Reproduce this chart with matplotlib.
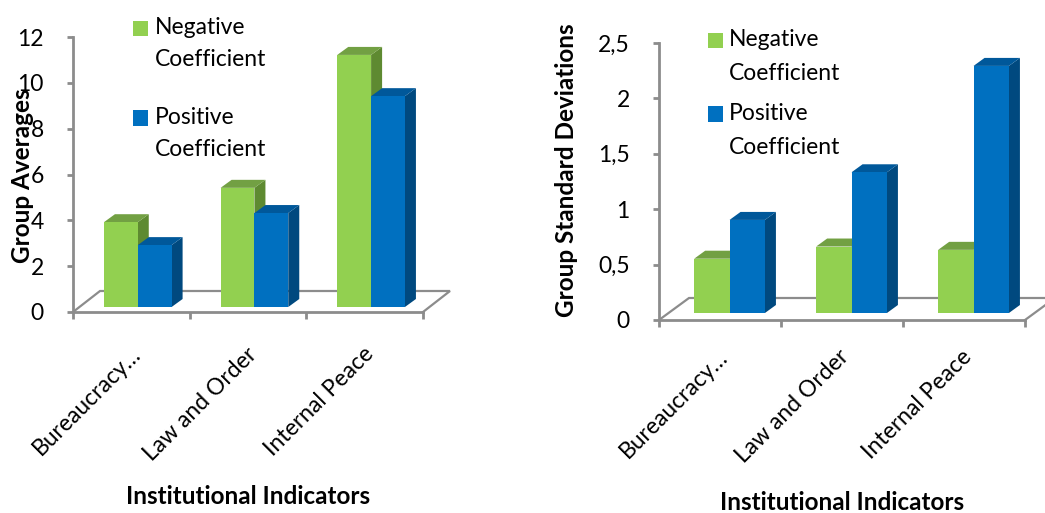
import matplotlib
matplotlib.use("Agg")
import matplotlib.pyplot as plt
from matplotlib.patches import Polygon, Rectangle
from matplotlib.transforms import ScaledTranslation

# ---------------- data ----------------
categories = ["Bureaucracy…", "Law and Order", "Internal Peace"]
legend_first = ["Negative", "Positive"]
legend_second = ["Coefficient", "Coefficient"]
avg_negative = [3.7, 5.2, 11.0]
avg_positive = [2.7, 4.1, 9.2]
sd_negative = [0.49, 0.60, 0.57]
sd_positive = [0.84, 1.27, 2.23]
avg_ticks = [0, 2, 4, 6, 8, 10, 12]
avg_tick_labels = ["0", "2", "4", "6", "8", "10", "12"]
sd_ticks = [0, 0.5, 1, 1.5, 2, 2.5]
sd_tick_labels = ["0", "0,5", "1", "1,5", "2", "2,5"]
x_title = "Institutional Indicators"
left_ylabel = "Group Averages"
right_ylabel = "Group Standard Deviations"

# ---------------- style ----------------
plt.rcParams['font.family'] = ['Lato', 'DejaVu Sans']
W, H = 1045, 513
DPI = 100
fig = plt.figure(figsize=(W / DPI, H / DPI), dpi=DPI)

GRAY = '#8c8c8c'
FACE = {
    0: ('#92D050', '#72A043', '#5E8A31'),   # front, top, side (green)
    1: ('#0070C0', '#00589A', '#00497F'),   # blue
}
TICK_FS = 16.5
BOLD_FS = 17.5


def add_px_axes(left, right, top, bottom):
    return fig.add_axes([left / W, (H - bottom) / H, (right - left) / W, (bottom - top) / H])


def draw_panel(ax, series, ymax, ticks, ticklabels, base_px, floor_dx, floor_dy,
               bar_w=0.29, depth=(11, 8), label_shift=5, label_pad=30):
    n = len(categories)
    ax.set_xlim(-0.5, n - 0.5)
    ax.set_ylim(0, ymax)
    p0 = ax.transData.transform((0, 0))
    p1 = ax.transData.transform((1, 1))
    ux, uy = p1[0] - p0[0], p1[1] - p0[1]

    # floor (drawn behind bars)
    fdx, fdy = floor_dx / ux, floor_dy / uy
    xl, xr = -0.5, n - 0.5
    ax.plot([xl, xl + fdx, xr + fdx, xr], [0, fdy, fdy, 0], color=GRAY, lw=1.6,
            clip_on=False, zorder=1, solid_joinstyle='miter')

    # bars (front face offset into the middle of the floor depth)
    bx = (base_px * floor_dx / floor_dy) / ux
    by = base_px / uy
    ddx, ddy = depth[0] / ux, depth[1] / uy
    for s, vals in enumerate(series):
        front, top, side = FACE[s]
        z = 3 + s
        xs = [i + bx + (s - 0.5) * bar_w for i in range(n)]
        ax.bar(xs, vals, width=bar_w, bottom=by, color=front, zorder=z + 0.2,
               linewidth=0, clip_on=False)
        for xc, v in zip(xs, vals):
            x0, x1 = xc - bar_w / 2, xc + bar_w / 2
            t = by + v
            ax.add_patch(Polygon([(x1, by), (x1, t), (x1 + ddx, t + ddy), (x1 + ddx, by + ddy)],
                                 closed=True, facecolor=side, edgecolor='none', zorder=z,
                                 clip_on=False))
            ax.add_patch(Polygon([(x0, t), (x1, t), (x1 + ddx, t + ddy), (x0 + ddx, t + ddy)],
                                 closed=True, facecolor=top, edgecolor='none', zorder=z + 0.1,
                                 clip_on=False))

    # axes styling
    for sp in ('top', 'right'):
        ax.spines[sp].set_visible(False)
    for sp in ('left', 'bottom'):
        ax.spines[sp].set_color(GRAY)
        ax.spines[sp].set_linewidth(2.0)
        ax.spines[sp].set_zorder(1)
    ax.set_facecolor('none')
    ax.set_yticks(ticks)
    ax.set_yticklabels(ticklabels, fontsize=TICK_FS)
    ax.tick_params(axis='y', direction='out', length=4, width=2, color=GRAY, pad=17)
    ax.set_xticks(range(n))
    ax.set_xticklabels(categories, fontsize=TICK_FS, rotation=45, ha='right', va='center',
                       rotation_mode='anchor')
    ax.tick_params(axis='x', which='major', length=0, pad=label_pad)
    ax.set_xticks([i - 0.5 for i in range(n + 1)], minor=True)
    ax.tick_params(axis='x', which='minor', direction='out', length=5, width=2, color=GRAY)
    for lab in ax.get_xticklabels():
        lab.set_transform(lab.get_transform() + ScaledTranslation(label_shift / DPI, 0, fig.dpi_scale_trans))


def draw_legend(sq_left, text_left, centers):
    for k in range(2):
        cy_first, cy_second = centers[k]
        fig.patches.append(Rectangle((sq_left / W, (H - cy_first - 7.5) / H), 15 / W, 15 / H,
                                     transform=fig.transFigure, facecolor=FACE[k][0],
                                     edgecolor='none'))
        fig.text(text_left / W, (H - cy_first) / H, legend_first[k], fontsize=TICK_FS,
                 ha='left', va='center')
        fig.text(text_left / W, (H - cy_second) / H, legend_second[k], fontsize=TICK_FS,
                 ha='left', va='center')


# left panel
axL = add_px_axes(73, 423, 37, 312)
draw_panel(axL, [avg_negative, avg_positive], 12, avg_ticks, avg_tick_labels,
           base_px=5, floor_dx=27, floor_dy=21, label_shift=6, label_pad=28)
fig.text(23 / W, (H - 176) / H, left_ylabel, rotation=90, fontsize=BOLD_FS, fontweight='bold',
         ha='center', va='center')
fig.text(248 / W, (H - 497) / H, x_title, fontsize=BOLD_FS, fontweight='bold', ha='center', va='center')
draw_legend(133, 155, [(28, 60), (118, 150)])

# right panel
axR = add_px_axes(659, 1025, 43, 320)
draw_panel(axR, [sd_negative, sd_positive], 2.5, sd_ticks, sd_tick_labels,
           base_px=7, floor_dx=30, floor_dy=22, label_shift=4, label_pad=24)
fig.text(567 / W, (H - 170) / H, right_ylabel, rotation=90, fontsize=BOLD_FS, fontweight='bold',
         ha='center', va='center')
fig.text(842 / W, (H - 503) / H, x_title, fontsize=BOLD_FS, fontweight='bold', ha='center', va='center')
draw_legend(708, 729, [(40, 73), (114, 147)])

fig.savefig("out.png", dpi=DPI, facecolor='white')
